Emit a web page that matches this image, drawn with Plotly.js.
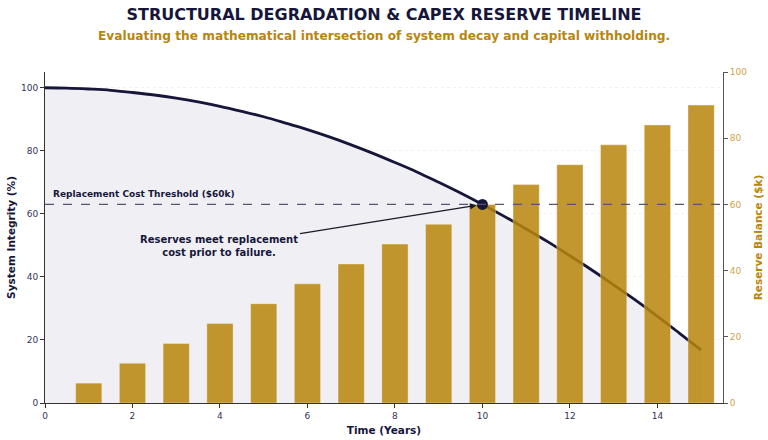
<!DOCTYPE html>
<html>
<head>
<meta charset="utf-8">
<script src="https://cdn.plot.ly/plotly-3.0.1.min.js"></script>
<style>
  html, body { margin: 0; padding: 0; background: #ffffff; }
  #chart { width: 768px; height: 440px; }
</style>
</head>
<body>
<div id="chart"></div>
<script>
// Structural integrity of the asset over time (%), half-year steps
const integrityYears = [0, 0.5, 1, 1.5, 2, 2.5, 3, 3.5, 4, 4.5, 5, 5.5, 6, 6.5, 7, 7.5,
                        8, 8.5, 9, 9.5, 10, 10.5, 11, 11.5, 12, 12.5, 13, 13.5, 14, 14.5, 15];
const integrityPct = [100, 99.9, 99.6, 99.2, 98.5, 97.7, 96.7, 95.5, 94.1, 92.5, 90.8, 88.8,
                      86.7, 84.4, 81.9, 79.2, 76.3, 73.3, 70.0, 66.6, 63.0, 59.2, 55.2, 51.1,
                      46.7, 42.2, 37.5, 32.6, 27.5, 22.2, 16.8];

// Accumulated capex reserve at the end of each year ($k)
const reserveYears = [1, 2, 3, 4, 5, 6, 7, 8, 9, 10, 11, 12, 13, 14, 15];
const reserveBalance = [6, 12, 18, 24, 30, 36, 42, 48, 54, 60, 66, 72, 78, 84, 90];

// Replacement cost and the year the reserve reaches it
const replacementCost = 60;
const crossoverYear = [10];
const crossoverReserve = [60];

const NAVY = '#16163a';
const GOLD = '#b8860b';
const FONT = 'DejaVu Sans, sans-serif';

const traces = [
  {
    x: integrityYears, y: integrityPct, type: 'scatter', mode: 'lines',
    line: { color: NAVY, width: 2.8, shape: 'spline' },
    fill: 'tozeroy', fillcolor: '#f0f0f4',
    xaxis: 'x', yaxis: 'y', hoverinfo: 'skip'
  },
  {
    x: reserveYears, y: reserveBalance, type: 'bar', width: 0.6,
    marker: { color: GOLD, opacity: 0.85, line: { color: 'rgba(255,255,255,0.35)', width: 1 } },
    xaxis: 'x', yaxis: 'y2', hoverinfo: 'skip'
  },
  {
    x: crossoverYear, y: crossoverReserve, type: 'scatter', mode: 'markers',
    marker: { color: NAVY, size: 11 },
    xaxis: 'x', yaxis: 'y2', hoverinfo: 'skip'
  }
];

const layout = {
  width: 768, height: 440,
  margin: { l: 45, r: 45, t: 72, b: 37 },
  paper_bgcolor: '#ffffff', plot_bgcolor: '#ffffff',
  showlegend: false,
  font: { family: FONT, color: '#333355' },
  bargap: 0,
  title: {
    text: 'STRUCTURAL DEGRADATION & CAPEX RESERVE TIMELINE',
    font: { family: FONT, size: 16, color: NAVY, weight: 'bold' },
    x: 0.5, xanchor: 'center', xref: 'paper',
    y: 1 - 14 / 440, yanchor: 'middle', yref: 'container'
  },
  xaxis: {
    range: [0, 15.5],
    tickvals: [0, 2, 4, 6, 8, 10, 12, 14],
    ticks: 'outside', ticklen: 4, tickcolor: '#333333',
    tickfont: { family: FONT, size: 9, color: '#333355' },
    showline: true, linecolor: '#333333', linewidth: 1,
    showgrid: false, zeroline: false,
    title: { text: 'Time (Years)', font: { family: FONT, size: 10.5, color: NAVY, weight: 'bold' }, standoff: 6 }
  },
  yaxis: {
    range: [0, 105],
    tickvals: [0, 20, 40, 60, 80, 100],
    ticks: 'outside', ticklen: 4, tickcolor: '#333333',
    tickfont: { family: FONT, size: 9, color: '#333355' },
    showline: true, linecolor: '#333333', linewidth: 1,
    showgrid: true, gridcolor: 'rgba(0,0,0,0.05)', griddash: 'dot',
    zeroline: false,
    title: { text: 'System Integrity (%)', font: { family: FONT, size: 10.5, color: NAVY, weight: 'bold' }, standoff: 3 }
  },
  yaxis2: {
    overlaying: 'y', side: 'right',
    range: [0, 100],
    tickvals: [0, 20, 40, 60, 80, 100],
    ticks: 'outside', ticklen: 4, tickcolor: '#555555',
    tickfont: { family: FONT, size: 9, color: '#d2a24a' },
    showline: true, linecolor: '#555555', linewidth: 1,
    showgrid: false, zeroline: false,
    title: { text: 'Reserve Balance ($k)', font: { family: FONT, size: 10.5, color: GOLD, weight: 'bold' }, standoff: 8 }
  },
  shapes: [
    {
      type: 'line', xref: 'paper', x0: 0, x1: 1, yref: 'y2', y0: replacementCost, y1: replacementCost,
      line: { color: '#555570', width: 1.2, dash: 'dash' }, layer: 'above'
    }
  ],
  annotations: [
    {
      text: 'Evaluating the mathematical intersection of system decay and capital withholding.',
      xref: 'paper', yref: 'paper', x: 0.5, y: 1 + (72 - 36) / 331,
      xanchor: 'center', yanchor: 'middle', showarrow: false,
      font: { family: FONT, size: 12.2, color: GOLD, weight: 'bold' }
    },
    {
      text: 'Replacement Cost Threshold ($' + replacementCost + 'k)',
      xref: 'paper', x: 0, xshift: 6, yref: 'y2', y: replacementCost, yshift: 3,
      xanchor: 'left', yanchor: 'bottom', showarrow: false,
      font: { family: FONT, size: 9, color: NAVY, weight: 'bold' }
    },
    {
      text: 'Reserves meet replacement<br>cost prior to failure.',
      xref: 'x', yref: 'y2', x: crossoverYear[0], y: crossoverReserve[0],
      ax: -263, ay: 42, showarrow: true,
      arrowhead: 2, arrowsize: 1, arrowwidth: 1.3, arrowcolor: '#1a1a2a', standoff: 6,
      align: 'center',
      font: { family: FONT, size: 10, color: NAVY, weight: 'bold' }
    }
  ]
};

Plotly.newPlot('chart', traces, layout, { displayModeBar: false, staticPlot: true });
</script>
</body>
</html>
